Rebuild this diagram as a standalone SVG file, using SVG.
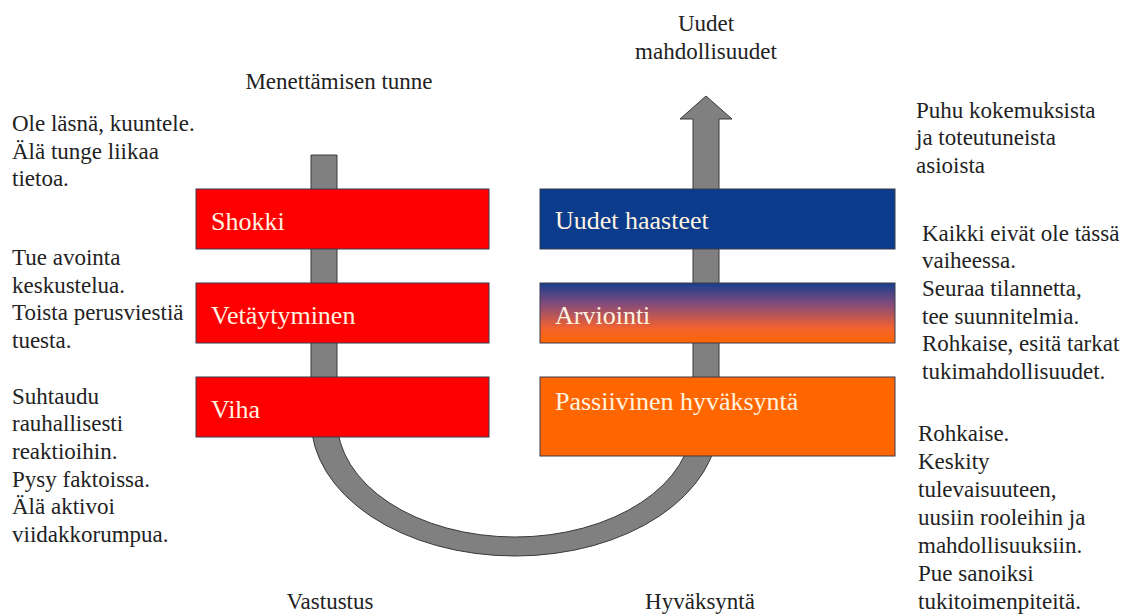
<svg xmlns="http://www.w3.org/2000/svg" width="1122" height="615" viewBox="0 0 1122 615">
  <style>
    text { font-family: 'Liberation Serif', 'DejaVu Serif', 'Times New Roman', serif; }
    .note { font-size: 23px; fill: #222; }
    .label { font-size: 26px; fill: #fff3e2; }
    .box { stroke: #3a3a4e; stroke-width: 1; }
    .red { fill: #ff0000; }
    .blue { fill: #0b3c8c; }
    .orange { fill: #ff6600; }
  </style>
  <defs>
    <linearGradient id="dusk" x1="0" y1="0" x2="0" y2="1">
      <stop offset="0" stop-color="#173e8e"/>
      <stop offset="0.35" stop-color="#844b7b"/>
      <stop offset="0.75" stop-color="#f2622f"/>
      <stop offset="1" stop-color="#ff6600"/>
    </linearGradient>
  </defs>
  <rect width="1122" height="615" fill="#ffffff"/>

  <!-- U-shaped path: falls on the left, rises on the right into an arrow -->
  <g id="connectors">
    <path d="M 311 155 L 337 155 L 337 420 A 178 117 0 0 0 693 420 L 693 119 L 680 119 L 706 96 L 732 119 L 719 119 L 719 420 A 204 136 0 0 1 311 420 Z" fill="#808080" stroke="#3a3a3a" stroke-width="1"/>
  </g>

  <!-- top and bottom captions -->
  <g id="captions">
    <text class="note" x="339" y="89" text-anchor="middle">Menettämisen tunne</text>
    <text class="note" x="706" y="31" text-anchor="middle">Uudet</text>
    <text class="note" x="706" y="59" text-anchor="middle">mahdollisuudet</text>
    <text class="note" x="330" y="609" text-anchor="middle">Vastustus</text>
    <text class="note" x="700" y="609" text-anchor="middle">Hyväksyntä</text>
  </g>

  <!-- left stages -->
  <g id="shokki">
    <rect class="box red" x="196" y="189" width="293" height="60"/>
    <text class="label" x="211" y="230">Shokki</text>
  </g>
  <g id="vetaytyminen">
    <rect class="box red" x="196" y="283" width="293" height="60"/>
    <text class="label" x="211" y="324">Vetäytyminen</text>
  </g>
  <g id="viha">
    <rect class="box red" x="196" y="377" width="293" height="60"/>
    <text class="label" x="211" y="418">Viha</text>
  </g>

  <!-- right stages -->
  <g id="uudet-haasteet">
    <rect class="box blue" x="540" y="189" width="355" height="60"/>
    <text class="label" x="555" y="229">Uudet haasteet</text>
  </g>
  <g id="arviointi">
    <rect class="box" x="540" y="283" width="355" height="60" fill="url(#dusk)"/>
    <text class="label" x="555" y="324">Arviointi</text>
  </g>
  <g id="passiivinen-hyvaksynta">
    <rect class="box orange" x="540" y="377" width="355" height="79"/>
    <text class="label" x="555" y="410">Passiivinen hyväksyntä</text>
  </g>

  <!-- guidance notes, left -->
  <g id="notes-left-1">
    <text class="note" x="12" y="131">Ole läsnä, kuuntele.</text>
    <text class="note" x="12" y="159">Älä tunge liikaa</text>
    <text class="note" x="12" y="186">tietoa.</text>
  </g>
  <g id="notes-left-2">
    <text class="note" x="12" y="265">Tue avointa</text>
    <text class="note" x="12" y="293">keskustelua.</text>
    <text class="note" x="12" y="320">Toista perusviestiä</text>
    <text class="note" x="12" y="348">tuesta.</text>
  </g>
  <g id="notes-left-3">
    <text class="note" x="12" y="404">Suhtaudu</text>
    <text class="note" x="12" y="431">rauhallisesti</text>
    <text class="note" x="12" y="459">reaktioihin.</text>
    <text class="note" x="12" y="487">Pysy faktoissa.</text>
    <text class="note" x="12" y="514">Älä aktivoi</text>
    <text class="note" x="12" y="542">viidakkorumpua.</text>
  </g>

  <!-- guidance notes, right -->
  <g id="notes-right-1">
    <text class="note" x="916" y="118">Puhu kokemuksista</text>
    <text class="note" x="916" y="145">ja toteutuneista</text>
    <text class="note" x="916" y="173">asioista</text>
  </g>
  <g id="notes-right-2">
    <text class="note" x="922" y="241">Kaikki eivät ole tässä</text>
    <text class="note" x="922" y="268">vaiheessa.</text>
    <text class="note" x="922" y="296">Seuraa tilannetta,</text>
    <text class="note" x="922" y="324">tee suunnitelmia.</text>
    <text class="note" x="922" y="351">Rohkaise, esitä tarkat</text>
    <text class="note" x="922" y="379">tukimahdollisuudet.</text>
  </g>
  <g id="notes-right-3">
    <text class="note" x="918" y="441">Rohkaise.</text>
    <text class="note" x="918" y="469">Keskity</text>
    <text class="note" x="918" y="497">tulevaisuuteen,</text>
    <text class="note" x="918" y="525">uusiin rooleihin ja</text>
    <text class="note" x="918" y="553">mahdollisuuksiin.</text>
    <text class="note" x="918" y="581">Pue sanoiksi</text>
    <text class="note" x="918" y="609">tukitoimenpiteitä.</text>
  </g>
</svg>
